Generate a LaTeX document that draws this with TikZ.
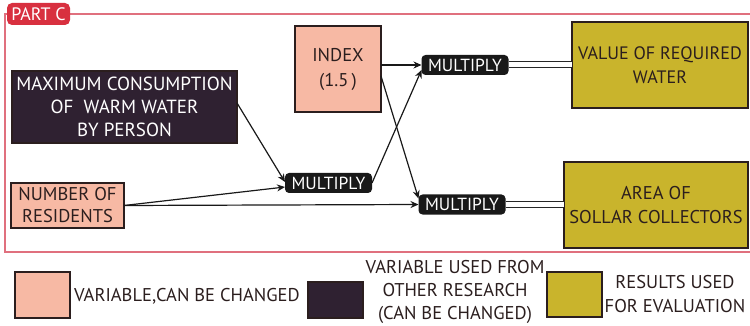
\documentclass[tikz,border=0pt]{standalone}
\usepackage{fontspec}
\setmainfont{PT Sans}
\usetikzlibrary{arrows.meta,calc}
\definecolor{salmon}{HTML}{F7B9A4}
\definecolor{plum}{HTML}{2F2131}
\definecolor{olive}{HTML}{C9B42C}
\definecolor{ink}{HTML}{2B1E1E}
\definecolor{framered}{HTML}{E0707E}
\definecolor{tagred}{HTML}{D8303F}
\tikzset{
  x=1pt, y=-1pt,
  every node/.style={inner sep=0pt, outer sep=0pt, font=\fontsize{19}{23}\selectfont},
  varbox/.style={draw=ink, line width=1.2pt, fill=salmon, text=ink, align=center},
  resbox/.style={draw=ink, line width=1.2pt, fill=plum, text=white, align=center},
  outbox/.style={draw=ink, line width=1.2pt, fill=olive, text=ink, align=center},
  mulbox/.style={fill=black!90, text=white, rounded corners=4pt, minimum height=20pt,
                 minimum width=87pt, font=\fontsize{17.5}{18}\selectfont},
  flow/.style={line width=1.2pt, draw=black!90, -{Stealth[length=8pt,width=7pt]}},
  pipe/.style={draw=black!85, line width=1pt, double=white, double distance=5pt},
  legtext/.style={text=ink, align=center, font=\fontsize{18.5}{24}\selectfont}
}
\begin{document}
\begin{tikzpicture}
\useasboundingbox (0,0) rectangle (750,326);
% outer frame and title tag
\draw[framered, line width=1.2pt] (5,14) rectangle (770,252);
\node[fill=tagred, text=white, rounded corners=5pt, minimum width=63pt, minimum height=22pt,
      font=\fontsize{18}{18}\selectfont] (tag) at (38.5,14) {PART C};

% inputs
\node[resbox, minimum width=225pt, minimum height=72pt] (maxc) at (124.5,107)
  {MAXIMUM CONSUMPTION\\OF\ \ WARM WATER\\BY PERSON};
\node[varbox, minimum width=113pt, minimum height=45pt, font=\fontsize{18.5}{22}\selectfont] (resid) at (67.5,205.5)
  {NUMBER OF\\RESIDENTS};
\node[varbox, minimum width=86pt, minimum height=86pt, font=\fontsize{18.5}{25}\selectfont] (index) at (338,69)
  {INDEX\\(1.5\,)};

% operations
\node[mulbox] (mulA) at (465,65) {MULTIPLY};
\node[mulbox] (mulB) at (328.5,183) {MULTIPLY};
\node[mulbox] (mulC) at (462,204.5) {MULTIPLY};

% results
\node[outbox, minimum width=176pt, minimum height=86pt, font=\fontsize{18}{24}\selectfont] (water) at (660,65)
  {VALUE OF REQUIRED\\WATER};
\node[outbox, minimum width=184pt, minimum height=86pt, font=\fontsize{18.5}{24}\selectfont] (area) at (656,205)
  {AREA OF\\SOLLAR COLLECTORS};

% connectors
\draw[flow] (index.east |- mulA.west) -- (mulA.west);
\draw[flow] ($(index.east)+(0,7)$) -- ($(mulC.west)+(0,-6)$);
\draw[flow] (mulB.east) -- ($(mulA.west)+(0,5)$);
\draw[flow] ($(maxc.east)+(0,-4)$) -- ($(mulB.west)+(0,-1)$);
\draw[flow] (resid.east) -- ($(mulB.west)+(0,4)$);
\draw[flow] (resid.east) -- (mulC.west);
\draw[pipe] (mulA.east) -- (water.west |- mulA.east);
\draw[pipe] (mulC.east) -- (area.west |- mulC.east);

% legend
\node[varbox, minimum width=55pt, minimum height=46pt] (key1) at (42.5,295) {};
\node[legtext, anchor=west] (key1t) at (74,296) {VARIABLE,CAN BE CHANGED};
\node[resbox, minimum width=55pt, minimum height=36pt] (key2) at (335.5,300) {};
\node[legtext, font=\fontsize{18.5}{23}\selectfont] (key2t) at (455,292) {VARIABLE USED FROM\\OTHER RESEARCH\\(CAN BE CHANGED)};
\node[outbox, minimum width=55pt, minimum height=45pt] (key3) at (574.5,294.5) {};
\node[legtext] (key3t) at (675,294) {RESULTS USED\\FOR EVALUATION};
\end{tikzpicture}
\end{document}
